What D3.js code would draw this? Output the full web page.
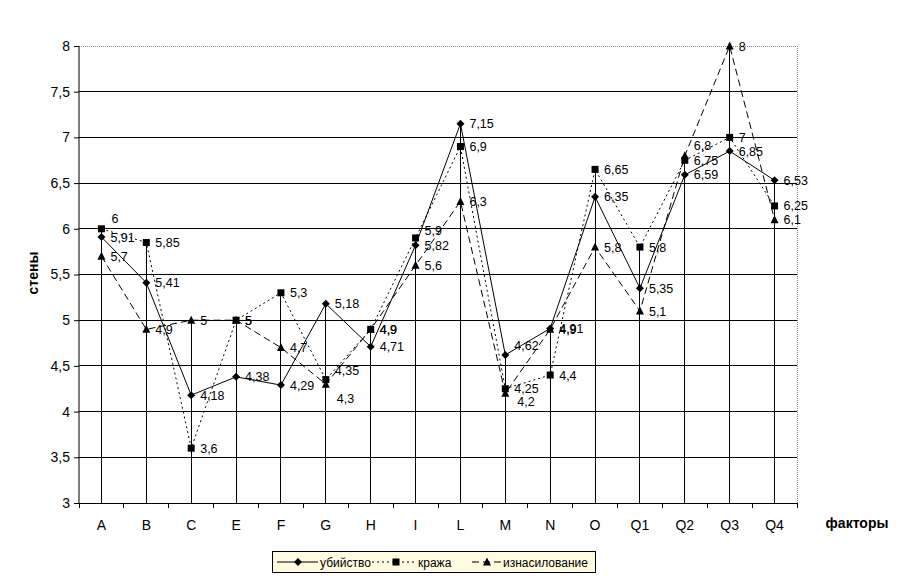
<!DOCTYPE html>
<html><head><meta charset="utf-8">
<script src="https://cdn.jsdelivr.net/npm/d3@7"></script>
<style>body{margin:0;background:#fff;} svg{display:block;font-family:Arial,"Liberation Sans",sans-serif;}</style>
</head><body>
<svg id="chart" width="908" height="585"></svg>
<script>
const categories = ["A","B","C","E","F","G","H","I","L","M","N","O","Q1","Q2","Q3","Q4"];
const murder = [5.91,5.41,4.18,4.38,4.29,5.18,4.71,5.82,7.15,4.62,4.91,6.35,5.35,6.59,6.85,6.53];
const theft  = [6,5.85,3.6,5,5.3,4.35,4.9,5.9,6.9,4.25,4.4,6.65,5.8,6.75,7,6.25];
const rape   = [5.7,4.9,5,5,4.7,4.3,4.9,5.6,6.3,4.2,4.9,5.8,5.1,6.8,8,6.1];
const seriesNames = ["убийство","кража","изнасилование"];
const yTicks = [3,3.5,4,4.5,5,5.5,6,6.5,7,7.5,8];

const series = [
  {name: seriesNames[0], values: murder, dash: null, marker: "diamond"},
  {name: seriesNames[1], values: theft, dash: "2,3", marker: "square"},
  {name: seriesNames[2], values: rape, dash: "7,4", marker: "triangle"}
];
// manual data-label nudges (series index -> category -> [dx, dy])
const labelNudge = {
  0: {M: [0, -9]},
  1: {A: [1, -10], G: [0, -9], I: [0, -7]},
  2: {G: [2, 14], M: [3, 8], Q2: [0, -10]}
};

const svg = d3.select("#chart");
const L = 79, R = 797, T = 46, B = 503;
const x = d3.scaleBand().domain(categories).range([L, R]);
const y = d3.scaleLinear().domain([3, 8]).range([B, T]);
const cx = c => x(c) + x.bandwidth() / 2;
const fmt = v => String(v).replace(".", ",");

// gridlines
svg.append("g").selectAll("line").data(yTicks.filter(t => t > 3 && t < 8)).join("line")
  .attr("x1", L).attr("x2", R).attr("y1", d => y(d)).attr("y2", d => y(d))
  .attr("stroke", "#000").attr("stroke-width", 1).attr("shape-rendering", "crispEdges");
// plot border top/right
svg.append("path").attr("d", `M${L},${y(8)}H${R}V${B}`).attr("fill", "none")
  .attr("stroke", "#888").attr("stroke-dasharray", "1,1").attr("shape-rendering", "crispEdges");

// drop lines
svg.append("g").selectAll("line").data(categories).join("line")
  .attr("x1", d => cx(d)).attr("x2", d => cx(d))
  .attr("y1", (d, i) => y(Math.max(murder[i], theft[i], rape[i]))).attr("y2", B)
  .attr("stroke", "#000").attr("shape-rendering", "crispEdges");

// axes
const yAxis = d3.axisLeft(y).tickValues(yTicks).tickSize(5).tickFormat(fmt);
const gy = svg.append("g").attr("transform", `translate(${L},0)`).call(yAxis);
gy.select(".domain").attr("stroke", "#000").attr("d", `M0,${B}V${T}`);
gy.selectAll("text").attr("font-size", 14).attr("fill", "#000").attr("x", -9);
gy.selectAll(".tick line").attr("stroke", "#000");

const gx = svg.append("g").attr("transform", `translate(0,${B})`);
gx.append("line").attr("x1", L).attr("x2", R).attr("stroke", "#000").attr("shape-rendering", "crispEdges");
const bounds = categories.map(c => x(c)).concat([R]);
gx.selectAll("line.tk").data(bounds).join("line").attr("class", "tk")
  .attr("x1", d => d).attr("x2", d => d).attr("y1", 0).attr("y2", 5)
  .attr("stroke", "#000").attr("shape-rendering", "crispEdges");
gx.selectAll("text").data(categories).join("text")
  .attr("x", d => cx(d)).attr("y", 27).attr("text-anchor", "middle")
  .attr("font-size", 14).attr("fill", "#000").text(d => d);

// axis titles
svg.append("text").attr("transform", "translate(38,273) rotate(-90)").attr("text-anchor", "middle")
  .attr("font-size", 14).attr("font-weight", "bold").text("стены");
svg.append("text").attr("x", 857).attr("y", 528).attr("text-anchor", "middle")
  .attr("font-size", 14).attr("font-weight", "bold").text("факторы");

function marker(g, type, px, py) {
  if (type === "diamond") g.append("path").attr("d", `M${px},${py-4}L${px+4},${py}L${px},${py+4}L${px-4},${py}Z`).attr("fill", "#000");
  else if (type === "square") g.append("rect").attr("x", px-3.5).attr("y", py-3.5).attr("width", 7).attr("height", 7).attr("fill", "#000");
  else g.append("path").attr("d", `M${px},${py-4.5}L${px+4},${py+3.5}L${px-4},${py+3.5}Z`).attr("fill", "#000");
}

const line = d3.line().x((d, i) => cx(categories[i])).y(d => y(d));
series.forEach(s => {
  svg.append("path").datum(s.values).attr("d", line).attr("fill", "none")
    .attr("stroke", "#000").attr("stroke-width", 1).attr("stroke-dasharray", s.dash);
});
series.forEach(s => {
  const g = svg.append("g");
  s.values.forEach((v, i) => marker(g, s.marker, cx(categories[i]), y(v)));
});
series.forEach((s, si) => {
  const nud = (i) => (labelNudge[si] && labelNudge[si][categories[i]]) || [0, 0];
  svg.append("g").selectAll("text").data(s.values).join("text")
    .attr("x", (d, i) => cx(categories[i]) + 9 + nud(i)[0]).attr("y", (d, i) => y(d) + 4.5 + nud(i)[1])
    .attr("font-size", 12.5).attr("fill", "#000").text(fmt);
});

// legend
const lg = svg.append("g");
lg.append("rect").attr("x", 272.5).attr("y", 551.5).attr("width", 323).attr("height", 21)
  .attr("fill", "#fffbe0").attr("stroke", "#000");
const items = [
  {s: series[0], x1: 277, x2: 318, mx: 298, tx: 320},
  {s: series[1], x1: 372, x2: 416, mx: 396, tx: 418},
  {s: series[2], x1: 472, x2: 502, mx: 487, tx: 503}
];
items.forEach(it => {
  lg.append("line").attr("x1", it.x1).attr("x2", it.x2).attr("y1", 562).attr("y2", 562)
    .attr("stroke", "#000").attr("stroke-dasharray", it.s.dash);
  marker(lg, it.s.marker, it.mx, 562);
  lg.append("text").attr("x", it.tx).attr("y", 566.5).attr("font-size", 12).text(it.s.name);
});
</script>
</body></html>
